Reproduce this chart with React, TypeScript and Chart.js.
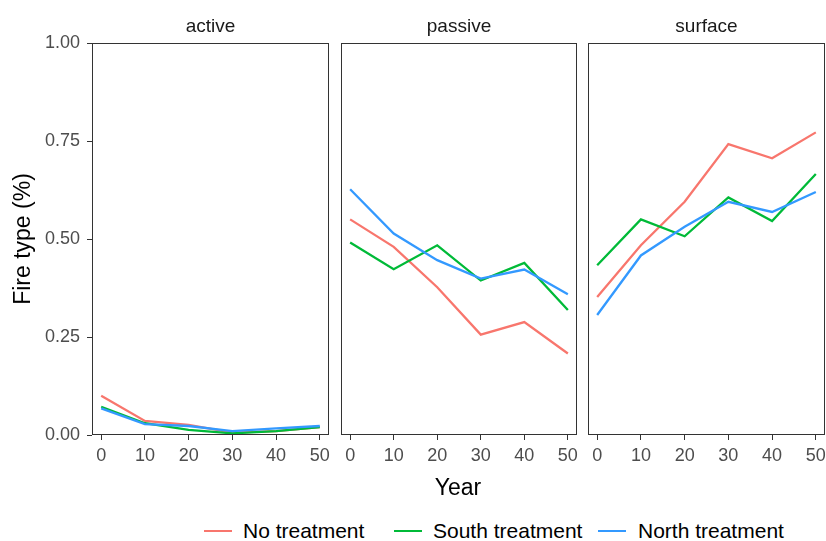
import React, { useEffect, useRef } from 'react';
import { Chart, registerables } from 'chart.js';
Chart.register(...registerables);

// ---- data ----
const years = [0, 10, 20, 30, 40, 50];
const xTickValues = [0, 10, 20, 30, 40, 50];
const yTickValues = [0, 0.25, 0.5, 0.75, 1];
const panelNames = ['active', 'passive', 'surface'];
const seriesNames = ['No treatment', 'South treatment', 'North treatment'];
const seriesColors = ['#F8766D', '#00BA38', '#3399FF'];

const activeNo = [0.1, 0.036, 0.026, 0.006, 0.01, 0.02];
const activeSouth = [0.072, 0.03, 0.013, 0.004, 0.01, 0.02];
const activeNorth = [0.068, 0.028, 0.023, 0.01, 0.017, 0.023];

const passiveNo = [0.55, 0.48, 0.377, 0.256, 0.288, 0.208];
const passiveSouth = [0.491, 0.423, 0.484, 0.394, 0.439, 0.319];
const passiveNorth = [0.627, 0.514, 0.446, 0.399, 0.422, 0.359];

const surfaceNo = [0.352, 0.484, 0.595, 0.742, 0.706, 0.772];
const surfaceSouth = [0.433, 0.55, 0.507, 0.606, 0.546, 0.666];
const surfaceNorth = [0.306, 0.458, 0.531, 0.595, 0.569, 0.62];

const panelSeries = [
  [activeNo, activeSouth, activeNorth],
  [passiveNo, passiveSouth, passiveNorth],
  [surfaceNo, surfaceSouth, surfaceNorth],
];

const FONT = "'Liberation Sans', Arial, sans-serif";

const borderPlugin = {
  id: 'panelBorder',
  afterDraw(chart: any) {
    const { ctx, chartArea } = chart;
    ctx.save();
    ctx.strokeStyle = '#333333';
    ctx.lineWidth = 1;
    ctx.strokeRect(
      chartArea.left + 0.5,
      chartArea.top + 0.5,
      chartArea.right - chartArea.left - 1,
      chartArea.bottom - chartArea.top - 1
    );
    ctx.restore();
  },
};

type PanelProps = {
  idx: number;
  left: number;
  width: number;
  padL: number;
  padR: number;
  showY: boolean;
};

const CANVAS_H = 475;

function Panel({ idx, left, width, padL, padR, showY }: PanelProps) {
  const ref = useRef<HTMLCanvasElement | null>(null);
  useEffect(() => {
    if (!ref.current) return;
    const series = panelSeries[idx];
    const chart = new Chart(ref.current, {
      type: 'line',
      data: {
        datasets: series.map((vals, s) => ({
          label: seriesNames[s],
          data: years.map((y, i) => ({ x: y, y: vals[i] })),
          borderColor: seriesColors[s],
          backgroundColor: seriesColors[s],
          borderWidth: 2.3,
          pointRadius: 0,
          tension: 0,
          fill: false,
          order: 2 - s,
        })),
      },
      options: {
        animation: false,
        responsive: false,
        devicePixelRatio: 1,
        layout: { padding: { left: padL, right: padR, top: 43, bottom: 0 } },
        plugins: { legend: { display: false }, tooltip: { enabled: false } },
        scales: {
          x: {
            type: 'linear',
            min: -2.1,
            max: 52.1,
            afterBuildTicks: (axis: any) => {
              axis.ticks = xTickValues.map((v) => ({ value: v }));
            },
            afterFit: (axis: any) => {
              axis.height = 40;
              axis.paddingLeft = 0;
              axis.paddingRight = 0;
            },
            grid: {
              drawOnChartArea: false,
              drawTicks: true,
              tickLength: 5,
              color: '#333333',
              lineWidth: 1,
            },
            border: { display: false },
            ticks: {
              color: '#4D4D4D',
              font: { family: FONT, size: 18 },
              padding: 5,
              maxRotation: 0,
              autoSkip: false,
              callback: (v: any) => String(v),
            },
          },
          y: {
            type: 'linear',
            min: 0,
            max: 1,
            display: showY,
            afterBuildTicks: (axis: any) => {
              axis.ticks = yTickValues.map((v) => ({ value: v }));
            },
            afterFit: (axis: any) => {
              if (showY) {
                axis.width = 92;
              } else {
                axis.width = 0;
              }
              axis.paddingTop = 0;
              axis.paddingBottom = 0;
            },
            grid: {
              drawOnChartArea: false,
              drawTicks: true,
              tickLength: 5,
              color: '#333333',
              lineWidth: 1,
            },
            border: { display: false },
            ticks: {
              color: '#4D4D4D',
              font: { family: FONT, size: 18 },
              padding: 7,
              autoSkip: false,
              callback: (v: any) => Number(v).toFixed(2),
            },
          },
        },
      },
      plugins: [borderPlugin],
    } as any);
    return () => chart.destroy();
  }, [idx, padL, padR, showY]);
  return (
    <canvas
      ref={ref}
      width={width}
      height={CANVAS_H}
      style={{ position: 'absolute', left, top: 0, width, height: CANVAS_H }}
    />
  );
}

const stripCenters = [210.5, 459, 706.5];

const legendItems = [
  { line: 204, text: 243 },
  { line: 394, text: 433 },
  { line: 598, text: 638 },
];

export default function App() {
  return (
    <div
      style={{
        position: 'absolute',
        left: 0,
        top: 0,
        width: 826,
        height: 541,
        background: '#ffffff',
        overflow: 'hidden',
        fontFamily: FONT,
      }}
    >
      <Panel idx={0} left={0} width={334} padL={0} padR={5} showY={true} />
      <Panel idx={1} left={335} width={247} padL={6} padR={5} showY={false} />
      <Panel idx={2} left={582} width={244} padL={6} padR={1} showY={false} />

      {panelNames.map((name, i) => (
        <div
          key={name}
          style={{
            position: 'absolute',
            left: stripCenters[i] - 100,
            width: 200,
            top: 16,
            textAlign: 'center',
            fontSize: 19,
            lineHeight: '19px',
            color: '#1A1A1A',
            whiteSpace: 'nowrap',
          }}
        >
          {name}
        </div>
      ))}

      <div
        style={{
          position: 'absolute',
          left: 22 - 100,
          top: 239 - 12,
          width: 200,
          height: 24,
          lineHeight: '24px',
          textAlign: 'center',
          fontSize: 23,
          color: '#000000',
          transform: 'rotate(-90deg)',
          whiteSpace: 'nowrap',
        }}
      >
        Fire type (%)
      </div>

      <div
        style={{
          position: 'absolute',
          left: 458 - 100,
          width: 200,
          top: 476,
          textAlign: 'center',
          fontSize: 23,
          lineHeight: '23px',
          color: '#000000',
        }}
      >
        Year
      </div>

      {legendItems.map((it, i) => (
        <React.Fragment key={seriesNames[i]}>
          <div
            style={{
              position: 'absolute',
              left: it.line,
              top: 530,
              width: 28,
              height: 2.3,
              background: seriesColors[i],
            }}
          />
          <div
            style={{
              position: 'absolute',
              left: it.text,
              top: 520,
              fontSize: 21,
              lineHeight: '21px',
              color: '#000000',
              whiteSpace: 'nowrap',
            }}
          >
            {seriesNames[i]}
          </div>
        </React.Fragment>
      ))}
    </div>
  );
}
